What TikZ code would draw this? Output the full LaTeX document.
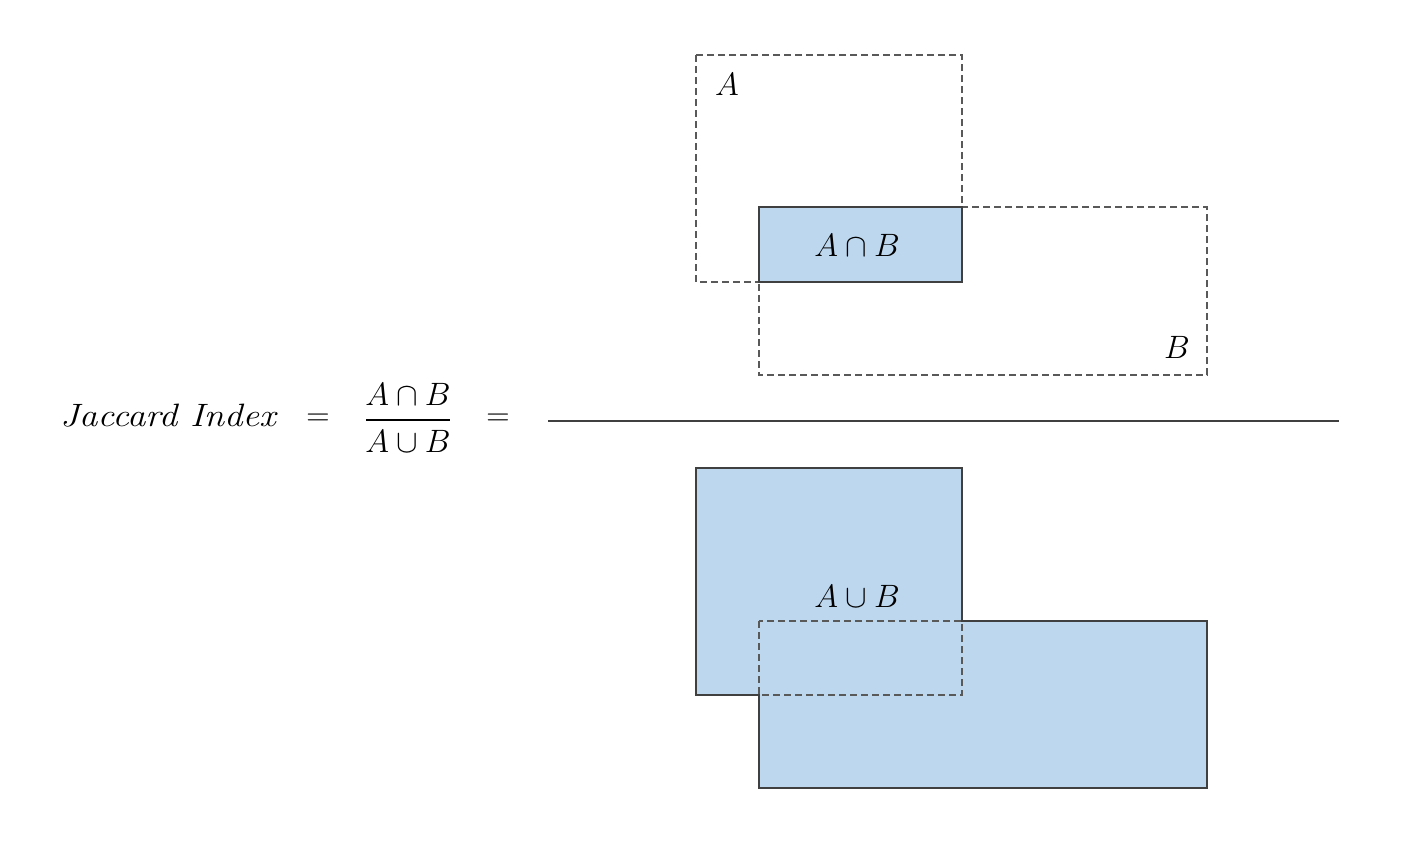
\documentclass[tikz,border=0pt]{standalone}
\usepackage{graphicx}
\definecolor{fillblue}{RGB}{189,215,238}
\definecolor{edge}{RGB}{64,64,64}
\definecolor{dashc}{RGB}{89,89,89}
\newcommand{\jbig}[1]{\scalebox{1.3}{\Huge$#1$}}
\newcommand{\jfrac}[1]{\scalebox{1.3}{\Huge$#1$}}
\tikzset{
  dashbox/.style={draw=dashc, line width=1.2pt, dash pattern=on 7pt off 4pt},
  solidbox/.style={draw=edge, line width=1.2pt},
  bigtxt/.style={inner sep=0pt},
}
\begin{document}
\begin{tikzpicture}[x=1pt,y=-1pt]
\useasboundingbox (0,0) rectangle (1410,846);
% ---------- formula ----------
\node[bigtxt] (jac) at (168,416) {\scalebox{1.48}[1.3]{\Huge\itshape Jaccard Index}};
\node[bigtxt] (eq1) at (318,420) {\jbig{=}};
\node[bigtxt] (num) at (408,394) {\jfrac{A\cap B}};
\node[bigtxt] (den) at (408,441) {\jfrac{A\cup B}};
\draw[line width=1.2pt] (366,420) -- (450,420);
\node[bigtxt] (eq2) at (498,420) {\jbig{=}};
\draw[line width=1.2pt, draw=edge] (548,421) -- (1339,421);
% ---------- numerator picture ----------
\draw[dashbox] (696,55) rectangle (962,282);
\draw[dashbox] (759,207) rectangle (1207,375);
\filldraw[fill=fillblue, solidbox] (759,207) rectangle (962,282);
\node[bigtxt] (la) at (727,84) {\jbig{A}};
\node[bigtxt] (lb) at (1177,347) {\jbig{B}};
\node[bigtxt] (inter) at (857,245) {\jbig{A\cap B}};
% ---------- denominator picture ----------
\filldraw[fill=fillblue, solidbox] (696,468) -- (962,468) -- (962,621) -- (1207,621) -- (1207,788) -- (759,788) -- (759,695) -- (696,695) -- cycle;
\draw[dashbox] (759,621) rectangle (962,695);
\node[bigtxt] (union) at (857,596) {\jbig{A\cup B}};
\end{tikzpicture}
\end{document}
